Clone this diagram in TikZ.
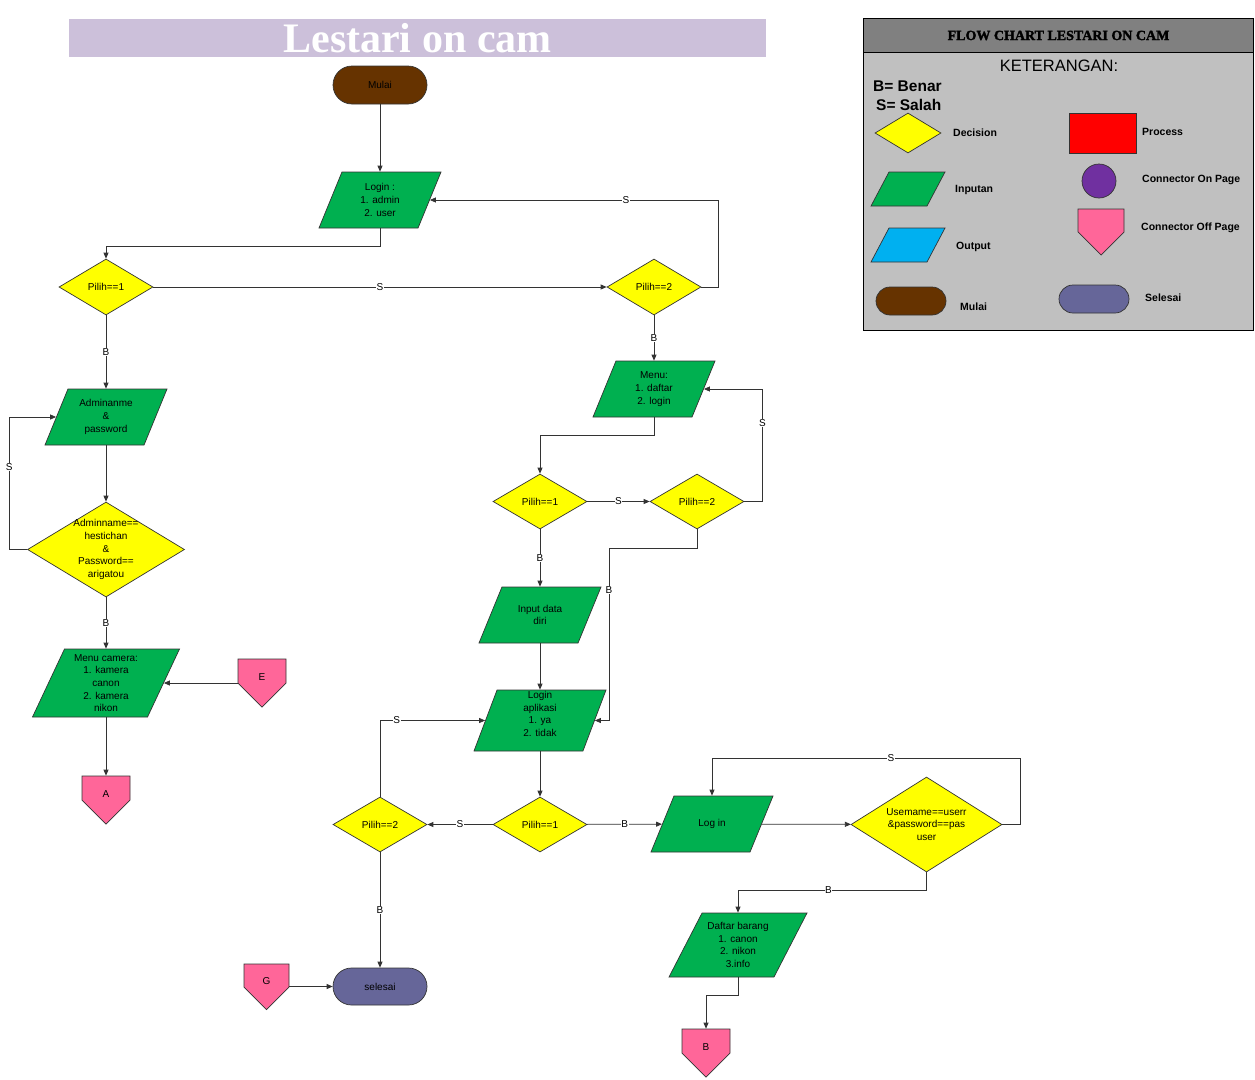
\documentclass[tikz,border=0pt]{standalone}
\usepackage{fontspec}
\usetikzlibrary{shapes.geometric,shapes.symbols,arrows.meta,calc}
\newfontfamily\sansf{Liberation Sans}
\newfontfamily\headf{Liberation Serif}
\definecolor{ingreen}{HTML}{00B050}
\definecolor{decy}{HTML}{FFFF00}
\definecolor{pinkc}{HTML}{FF6699}
\definecolor{brownc}{HTML}{663300}
\definecolor{endc}{HTML}{666699}
\definecolor{titlebg}{HTML}{CCC0DA}
\definecolor{legbody}{HTML}{C0C0C0}
\definecolor{leghead}{HTML}{808080}
\definecolor{outc}{HTML}{00B0F0}
\definecolor{purp}{HTML}{7030A0}
\definecolor{procr}{HTML}{FF0000}
\begin{document}
\begin{tikzpicture}[x=1pt,y=-1pt,
  cline/.style={draw=black!80, line width=0.75pt},
  arr/.style={cline, -{Triangle[length=6pt,width=5pt]}},
  lbl/.style={font=\sansf\fontsize{10}{12}\selectfont, fill=white, inner sep=0.6pt},
  txt/.style={font=\sansf\fontsize{10}{12.6}\selectfont, align=center, inner sep=0pt, text=black},
  shp/.style={draw=black!80, line width=0.7pt},
  para/.style n args={4}{shp, trapezium, trapezium left angle=#1, trapezium right angle=#2, trapezium stretches body, text height=#4, text depth=#4, minimum width=#3, inner sep=0pt, fill=ingreen},
  dec/.style 2 args={shp, diamond, minimum width=#1, minimum height=#2, inner sep=0pt, fill=decy},
  term/.style n args={3}{shp, rectangle, rounded corners=#3, minimum width=#1, minimum height=#2, inner sep=0pt},
  offp/.style 2 args={shp, signal, signal to=south, signal from=nowhere, signal pointer angle=90, minimum width=#1, minimum height=#2, inner sep=0pt, fill=pinkc},
  legtxt/.style={font=\sansf\bfseries\fontsize{10.5}{12}\selectfont, anchor=west, inner sep=0pt}
]
\useasboundingbox (0,0) rectangle (1255,1079);

% title
\node[fill=titlebg, minimum width=697pt, minimum height=38pt, inner sep=0pt, text=white, font=\headf\bfseries\fontsize{42}{42}\selectfont] (title) at (417.5,38) {Lestari on cam};

% top part
\node[term={94pt}{38pt}{19pt}, fill=brownc, label={[txt]center:Mulai}] (mulai) at (380,85) {};
\node[para={67.7}{112.3}{122pt}{28pt}, label={[txt]center:{Login :\\1. admin\\2. user}}] (login) at (380,200) {};
\node[dec={94pt}{56pt}, label={[txt]center:{Pilih==1}}] (p1) at (106,287) {};
\node[dec={94pt}{56pt}, label={[txt]center:{Pilih==2}}] (p2) at (654,287) {};

% left column
\node[para={67.7}{112.3}{122pt}{28pt}, label={[txt]center:{Adminanme\\\&\\password}}] (admin) at (106,417) {};
\node[dec={157pt}{95pt}, label={[txt]center:{Adminname==\\hestichan\\\&\\Password==\\arigatou}}] (adec) at (106,549.5) {};
\node[para={64.8}{115.2}{147pt}{34pt}, label={[txt]center:{Menu camera:\\1. kamera\\canon\\2. kamera\\nikon}}] (menucam) at (106,683) {};
\node[offp={48pt}{24pt}, label={[txt,yshift=-6pt]center:E}] (e) at (262,671) {};
\node[offp={48pt}{24pt}, label={[txt,yshift=-6pt]center:A}] (a) at (106,788) {};

% middle column
\node[para={67.7}{112.3}{122pt}{28pt}, label={[txt]center:{Menu:\\1. daftar\\2. login}}] (menu) at (654,389) {};
\node[dec={94pt}{55pt}, label={[txt]center:{Pilih==1}}] (q1) at (540,501.5) {};
\node[dec={94pt}{55pt}, label={[txt]center:{Pilih==2}}] (q2) at (697,501.5) {};
\node[para={67.7}{112.3}{122pt}{28pt}, label={[txt]center:{Input data\\diri}}] (input) at (540,615) {};
\node[para={69.3}{110.7}{132pt}{30.5pt}, label={[txt,yshift=6.5pt]center:{Login\\aplikasi\\1. ya\\2. tidak}}] (loginapp) at (540,720.5) {};
\node[dec={94pt}{55pt}, label={[txt]center:{Pilih==1}}] (r1) at (540,824.5) {};
\node[dec={94pt}{55pt}, label={[txt]center:{Pilih==2}}] (r2) at (380,824.5) {};
\node[term={94pt}{37pt}{18.5pt}, fill=endc, label={[txt]center:selesai}] (selesai) at (380,986.5) {};
\node[offp={45pt}{23pt}, label={[txt,yshift=-6pt]center:G}] (g) at (266.5,975.5) {};

% right part
\node[para={67.7}{112.3}{122pt}{28pt}, label={[txt]center:{Log in}}] (logn) at (712,824) {};
\node[dec={151pt}{95pt}, label={[txt]center:{Usemame==userr\\\&password==pas\\user}}] (user) at (926.5,824.5) {};
\node[para={62.7}{117.3}{138pt}{32pt}, label={[txt]center:{Daftar barang\\1. canon\\2. nikon\\3.info}}] (daftar) at (738,945) {};
\node[offp={48pt}{24pt}, label={[txt,yshift=-6pt]center:B}] (bb) at (706,1041) {};

% connectors
\draw[arr] (mulai) -- (login);
\draw[arr] (login.south -| login.center) -- ++(0,18) -| (p1.north);
\draw[arr] (p1) -- node[lbl]{S} (p2);
\draw[arr] (p2.east) -- ++(17,0) |- node[lbl,pos=0.66]{S} (login);
\draw[arr] (p2) -- node[lbl]{B} (menu);
\draw[arr] (menu.south -| menu.center) -- ++(0,18) -| (q1.north);
\draw[arr] (q1) -- node[lbl]{S} (q2);
\draw[arr] (q2.east) -- ++(18,0) |- node[lbl,pos=0.35]{S} (menu);
\draw[arr] (q1) -- node[lbl]{B} (input);
\draw[arr] (q2.south) -- ++(0,19) -- ++(-88,0) |- node[lbl,pos=0.12]{B} (loginapp);
\draw[arr] (input) -- (loginapp);
\draw[arr] (loginapp) -- (r1);
\draw[arr] (r1) -- node[lbl]{S} (r2);
\draw[arr] (r2.north) |- node[lbl,pos=0.58]{S} (loginapp);
\draw[arr] (r2) -- node[lbl]{B} (selesai);
\draw[arr] ($(g.east)+(0,11)$) -- (selesai);
\draw[arr] (r1) -- node[lbl]{B} (logn);
\draw[arr] (logn) -- (user);
\draw[arr] (user.east) -- ++(18,0) -- ++(0,-66) -| node[lbl,pos=0.21]{S} (logn);
\draw[arr] (user.south) -- ++(0,18) -| node[lbl,pos=0.26]{B} (daftar);
\draw[arr] (daftar.south -| daftar.center) -- ++(0,18) -| (bb.north);
\draw[arr] (p1) -- node[lbl]{B} (admin);
\draw[arr] (admin) -- (adec);
\draw[arr] (adec.west) -- ++(-18,0) |- node[lbl,pos=0.31]{S} (admin);
\draw[arr] (adec) -- node[lbl]{B} (menucam);
\draw[arr] ($(e.west)+(0,12)$) -- (menucam);
\draw[arr] (menucam) -- (a);

% legend
\node[draw=black, line width=1.2pt, fill=legbody, minimum width=390pt, minimum height=312pt, inner sep=0pt, anchor=north west] (legend) at (863,18) {};
\node[draw=black, line width=1pt, fill=leghead, minimum width=390pt, minimum height=34pt, inner sep=0pt, anchor=north west, font=\headf\bfseries\fontsize{14}{16}\selectfont\addfontfeature{FakeBold=2}] (leghead) at (863,18) {FLOW CHART LESTARI ON CAM};
\node[font=\sansf\fontsize{16.5}{18}\selectfont, inner sep=0pt] (ket) at (1059,66) {KETERANGAN:};
\node[font=\sansf\bfseries\fontsize{15.5}{17}\selectfont, anchor=west, inner sep=0pt] (bben) at (873,86) {B= Benar};
\node[font=\sansf\bfseries\fontsize{15.5}{17}\selectfont, anchor=west, inner sep=0pt] (ssal) at (876,105) {S= Salah};
\node[dec={66pt}{40pt}] (ldec) at (908,133) {};
\node[shp, fill=procr, minimum width=67pt, minimum height=40pt, inner sep=0pt] (lproc) at (1102.5,133) {};
\node[para={62.1}{117.9}{74pt}{17pt}] (linp) at (908,189) {};
\node[para={62.1}{117.9}{74pt}{17pt}, fill=outc] (lout) at (908,245) {};
\node[shp, circle, fill=purp, minimum size=34pt, inner sep=0pt] (lcon) at (1099,181) {};
\node[offp={46pt}{23pt}] (loff) at (1101,220.5) {};
\node[term={70pt}{28pt}{14pt}, fill=brownc] (lmul) at (911,301) {};
\node[term={70pt}{28pt}{14pt}, fill=endc] (lsel) at (1094,299) {};
\node[legtxt] (tdec) at (953,133) {Decision};
\node[legtxt] (tproc) at (1142,132) {Process};
\node[legtxt] (tinp) at (955,190) {Inputan};
\node[legtxt] (tcon) at (1142,180) {Connector On Page};
\node[legtxt] (tout) at (956,247) {Output};
\node[legtxt] (toff) at (1141,228) {Connector Off Page};
\node[legtxt] (tmul) at (960,307) {Mulai};
\node[legtxt] (tsel) at (1145,298) {Selesai};
\end{tikzpicture}
\end{document}
